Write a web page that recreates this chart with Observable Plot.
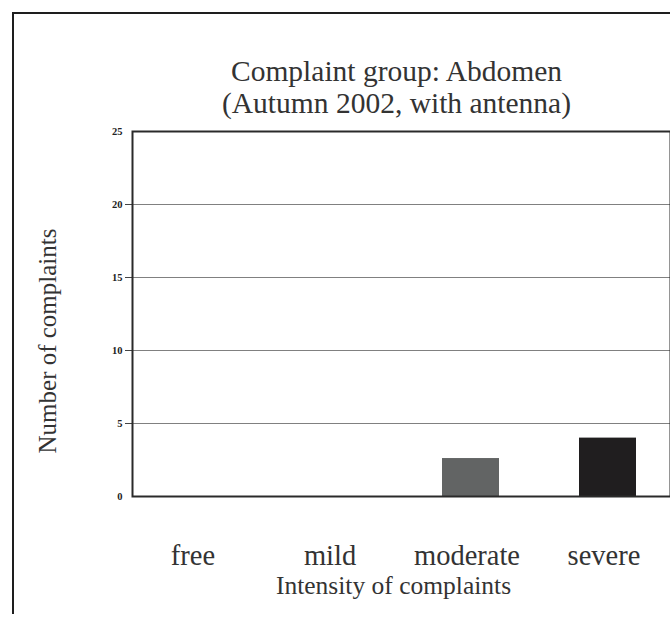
<!DOCTYPE html>
<html>
<head>
<meta charset="utf-8">
<script src="https://cdn.jsdelivr.net/npm/d3@7"></script>
<script src="https://cdn.jsdelivr.net/npm/@observablehq/plot@0.6"></script>
<style>
  html, body { margin: 0; padding: 0; background: #fff; }
  #wrap { position: relative; width: 670px; height: 619px; overflow: hidden; }
  #border { position: absolute; left: 12px; top: 12px; width: 700px; height: 600px;
            border-left: 2px solid #1e1e1e; border-top: 2px solid #1e1e1e; pointer-events: none; }
  svg { font-family: "Liberation Serif", "Times New Roman", serif; }
</style>
</head>
<body>
<div id="wrap"><div id="border"></div></div>
<script>
const categories = ["free", "mild", "moderate", "severe"];
const complaints = [0, 0, 2.6, 4.0];
const barColors = ["#8a8a8a", "#7a7a7a", "#626464", "#201e1f"];
const yTickLabels = [0, 5, 10, 15, 20, 25];
const gridTicks = [5, 10, 15, 20];
const titleLines = ["Complaint group: Abdomen", "(Autumn 2002, with antenna)"];
const yTitle = "Number of complaints";
const xTitle = "Intensity of complaints";

const data = categories.map((c, i) => ({category: c, value: complaints[i]}));

const chart = Plot.plot({
  width: 670,
  height: 619,
  marginLeft: 132,
  marginRight: 0,
  marginTop: 131,
  marginBottom: 123,
  style: {fontFamily: "'Liberation Serif', 'Times New Roman', serif", background: "transparent", color: "#222"},
  x: {domain: categories, range: [127.5, 675.5], paddingInner: 0.584, paddingOuter: 0.292, align: 0.5, axis: null},
  y: {domain: [0, 25], range: [496, 131], axis: null},
  color: {domain: categories, range: barColors},
  marks: [
    Plot.gridY(gridTicks, {stroke: "#808080", strokeOpacity: 1, strokeWidth: 1.2}),
    Plot.barY(data, {x: "category", y: "value", fill: "category"}),
    Plot.axisY(gridTicks, {tickSize: 7, tickFormat: () => "", stroke: "#444", label: null}),
    Plot.axisY(yTickLabels, {tickSize: 0, tickPadding: 10, fontSize: 10.5, fontWeight: "bold", fill: "#222", label: null}),
    Plot.axisX(categories, {tickSize: 0, tickPadding: 48, dx: -4, fontSize: 28.5, fill: "#333", label: null, style: {letterSpacing: "0.6px"}}),
    Plot.frame({stroke: "#2a2a2a", strokeWidth: 2}),
    Plot.text([titleLines[0]], {frameAnchor: "top", dx: -5, dy: -71, fontSize: 29.5, fill: "#333"}),
    Plot.text([titleLines[1]], {frameAnchor: "top", dx: -5, dy: -39, fontSize: 29.5, fill: "#333"}),
    Plot.text([yTitle], {frameAnchor: "left", textAnchor: "middle", dx: -85, dy: 27, rotate: -90, fontSize: 25, fill: "#333"}),
    Plot.text([xTitle], {frameAnchor: "bottom", lineAnchor: "middle", dx: -8, dy: 89, fontSize: 25.5, fill: "#333"})
  ]
});
document.getElementById("wrap").prepend(chart);
</script>
</body>
</html>
